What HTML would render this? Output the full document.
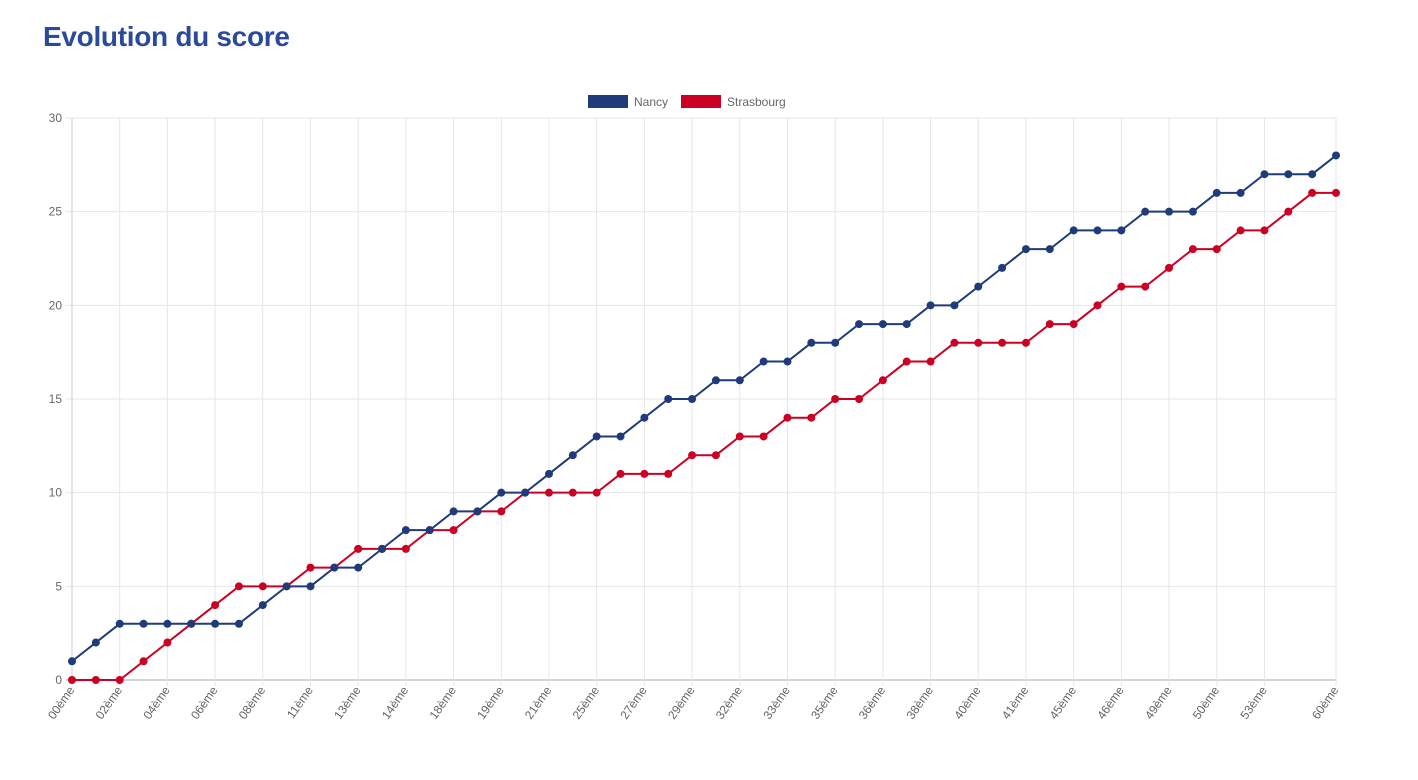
<!DOCTYPE html>
<html><head><meta charset="utf-8"><style>
body{margin:0;background:#fff;width:1418px;height:780px;overflow:hidden;font-family:"Liberation Sans",sans-serif}
h1{position:absolute;left:43px;top:21px;margin:0;font-size:28px;font-weight:bold;color:#2c4a9b;letter-spacing:-0.3px}
</style></head><body>
<h1>Evolution du score</h1>
<svg id="chart" width="1418" height="780" style="position:absolute;left:0;top:0"></svg>
<script>
const labels=["00ème","01ème","02ème","03ème","04ème","05ème","06ème","07ème","08ème","10ème","11ème","12ème","13ème","13ème","14ème","16ème","18ème","18ème","19ème","20ème","21ème","23ème","25ème","26ème","27ème","28ème","29ème","31ème","32ème","32ème","33ème","34ème","35ème","35ème","36ème","37ème","38ème","39ème","40ème","40ème","41ème","43ème","45ème","45ème","46ème","48ème","49ème","49ème","50ème","52ème","53ème","55ème","57ème","60ème"];
const nancy=[1,2,3,3,3,3,3,3,4,5,5,6,6,7,8,8,9,9,10,10,11,12,13,13,14,15,15,16,16,17,17,18,18,19,19,19,20,20,21,22,23,23,24,24,24,25,25,25,26,26,27,27,27,28];
const strasbourg=[0,0,0,1,2,3,4,5,5,5,6,6,7,7,7,8,8,9,9,10,10,10,10,11,11,11,12,12,13,13,14,14,15,15,16,17,17,18,18,18,18,19,19,20,21,21,22,23,23,24,24,25,26,26];
const yTicks=[0,5,10,15,20,25,30];
const NS="http://www.w3.org/2000/svg",svg=document.getElementById('chart');
const X0=72,X1=1336,Y0=680,Y1=118;
const xs=i=>X0+i*(X1-X0)/(labels.length-1);
const ys=v=>Y0-v*(Y0-Y1)/30;
function el(t,a,p){const e=document.createElementNS(NS,t);for(const k in a)e.setAttribute(k,a[k]);(p||svg).appendChild(e);return e;}
yTicks.forEach(v=>{
 const g=el('line',{x1:X0-6,x2:X1,y1:ys(v),y2:ys(v),stroke:v===0?'#aaa':'#e6e6e6','stroke-width':1});
 
 
 const t=el('text',{x:X0-10,y:ys(v)+4,'text-anchor':'end','font-size':12,fill:'#666'});
 t.textContent=v;
 
 
});
labels.forEach((l,i)=>{
 const show=(i%2===0&&i<=50)||i===labels.length-1;
 if(!show)return;
 const x=xs(i);
 const g=el('line',{x1:x,x2:x,y1:Y1,y2:Y0+6,stroke:'#e6e6e6','stroke-width':1});
 
 
 const t=el('text',{x:x+3,y:Y0+10,'text-anchor':'end','font-size':12,fill:'#666',transform:`rotate(-55 ${x+3} ${Y0+10})`});
 t.textContent=l;
 
 
});
el('line',{x1:X0,x2:X0,y1:Y1,y2:Y0,stroke:'#ccc'});
function series(vals,color,name){
 const p=el('polyline',{points:vals.map((v,i)=>xs(i)+','+ys(v)).join(' '),fill:'none',stroke:color,'stroke-width':2});
 
 
 vals.forEach((v,i)=>{
  const c=el('circle',{cx:xs(i),cy:ys(v),r:4,fill:color});
  
  
 });
}
series(strasbourg,'#cc0022','strasbourg');
series(nancy,'#1f3b7a','nancy');
const legend=[["Nancy","#1f3b7a",588],["Strasbourg","#cc0022",681]];
legend.forEach(([n,c,x])=>{
 const r=el('rect',{x:x,y:95,width:40,height:13,fill:c});
 
 
 const t=el('text',{x:x+46,y:106,'font-size':12,fill:'#666'});
 t.textContent=n;
 
 
});
</script>
</body></html>
